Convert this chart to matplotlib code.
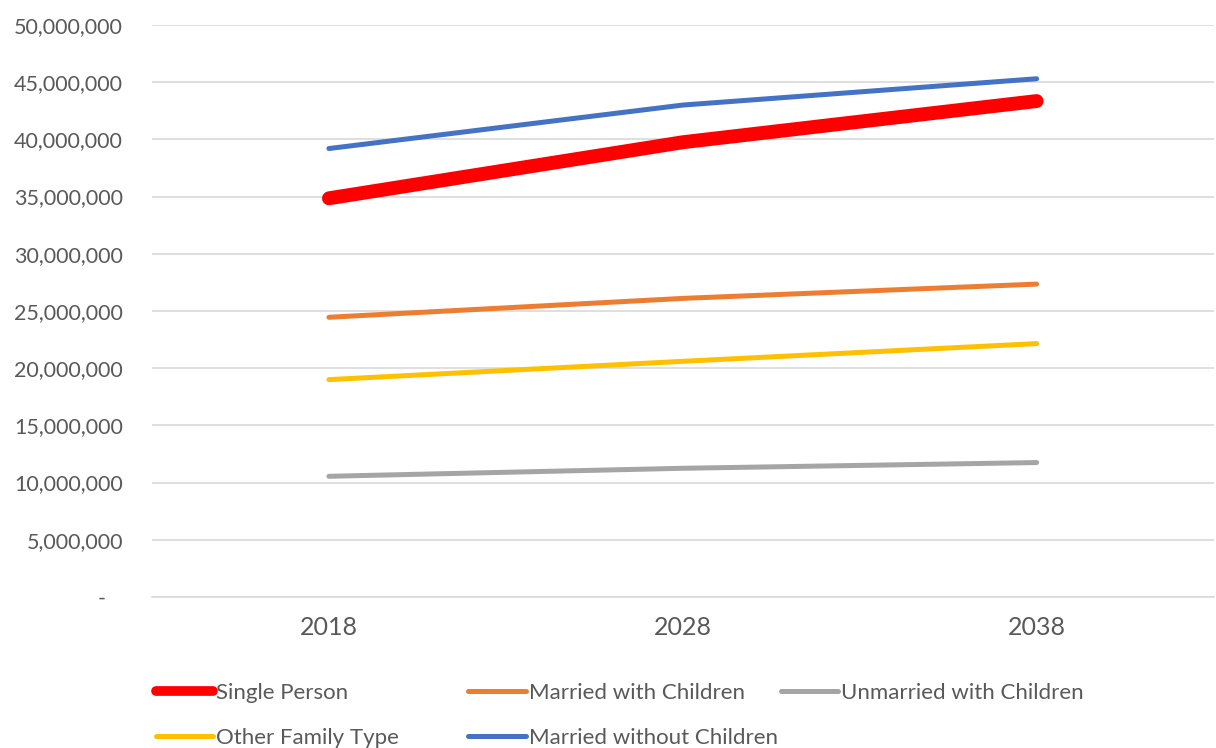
import numpy as np
import matplotlib.pyplot as plt
from matplotlib.ticker import FuncFormatter, MultipleLocator

years = ['2018', '2028', '2038']
single_person = [34.85e6, 39.75e6, 43.35e6]
married_with_children = [24.45e6, 26.1e6, 27.35e6]
unmarried_with_children = [10.55e6, 11.25e6, 11.75e6]
other_family_type = [19.0e6, 20.6e6, 22.15e6]
married_without_children = [39.2e6, 43.0e6, 45.3e6]

plt.rcParams['font.family'] = ['Lato', 'DejaVu Sans']
txt_color = '#595959'
grid_color = '#d9d9d9'

fig = plt.figure(figsize=(12.16, 7.48), dpi=100)
ax = fig.add_axes([0.125, 0.2019, 0.873, 0.7647])

x = np.arange(len(years))
series = [
    ('Single Person', single_person, '#ff0000', 10),
    ('Married with Children', married_with_children, '#ed7d31', 3.6),
    ('Unmarried with Children', unmarried_with_children, '#a5a5a5', 3.6),
    ('Other Family Type', other_family_type, '#ffc000', 3.6),
    ('Married without Children', married_without_children, '#4472c4', 3.6),
]
handles = {}
for name, vals, col, lw in series:
    ln, = ax.plot(x, vals, color=col, lw=lw, solid_capstyle='round', label=name, zorder=3)
    handles[name] = ln

ax.set_xlim(-0.5, 2.5)
ax.set_ylim(0, 50e6)
ax.yaxis.set_major_locator(MultipleLocator(5e6))
ax.yaxis.set_major_formatter(FuncFormatter(lambda v, p: '-   ' if v == 0 else f'{v:,.0f}'))
ax.set_xticks(x)
ax.set_xticklabels(years)
ax.grid(axis='y', color=grid_color, lw=1.2)
ax.set_axisbelow(True)
for s in ['top', 'right', 'left']:
    ax.spines[s].set_visible(False)
ax.spines['bottom'].set_color(grid_color)
ax.spines['bottom'].set_linewidth(1.2)
ax.tick_params(axis='y', length=0, pad=21, labelsize=15.5, labelcolor=txt_color)
ax.tick_params(axis='x', length=0, pad=14, labelsize=18, labelcolor=txt_color)

# legend: three columns placed by hand
cols = [
    (0.128, ['Single Person', 'Other Family Type']),
    (0.385, ['Married with Children', 'Married without Children']),
    (0.642, ['Unmarried with Children']),
]
for xpos, names in cols:
    leg = fig.legend([handles[n] for n in names], names, loc='upper left',
                     bbox_to_anchor=(xpos, 0.087), frameon=False, fontsize=16,
                     handlelength=2.6, handletextpad=0.12, labelspacing=1.12,
                     borderaxespad=0, borderpad=0)
    for t in leg.get_texts():
        t.set_color(txt_color)
fig.legends[0].get_lines()[0].set_linewidth(7)

fig.savefig('out.png', dpi=100)
